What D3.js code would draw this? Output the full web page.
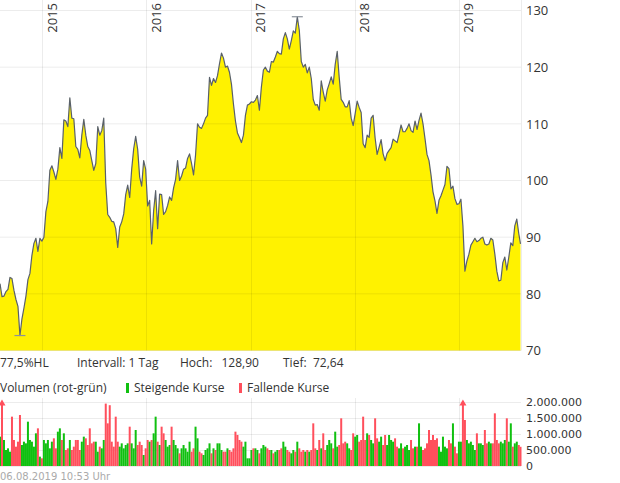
<!DOCTYPE html>
<html>
<head>
<meta charset="utf-8">
<script src="https://cdn.jsdelivr.net/npm/d3@7"></script>
<style>
  body { margin: 0; background: #fff; }
  svg { display: block; font-family: "Open Sans", sans-serif; }
</style>
</head>
<body>
<script>
// weekly closes, 06.08.2014 .. 06.08.2019
const startDate = "2014-08-06";
const endDate = "2019-08-06";
const yearLabels = ["2015", "2016", "2017", "2018", "2019"];
const priceTicks = [70, 80, 90, 100, 110, 120, 130];
const volumeTicks = [0, 500000, 1000000, 1500000, 2000000];

const prices = [
  81.8, 79.5, 79.6, 80.4, 80.8, 82.9, 82.7, 80.6, 79.0, 77.8,
  72.64, 75.6, 77.5, 79.6, 82.5, 83.6, 86.8, 88.9, 89.8, 87.5,
  89.8, 89.3, 90.0, 94.5, 96.3, 101.8, 102.6, 101.5, 100.2, 102.0,
  105.8, 103.9, 110.7, 110.5, 109.5, 114.6, 111.0, 110.9, 106.0, 105.5,
  104.0, 108.0, 110.8, 108.0, 106.0, 105.3, 103.5, 101.8, 103.0, 109.5,
  108.0, 108.8, 111.0, 99.5, 94.0, 93.5, 92.8, 92.7, 91.5, 88.2,
  91.8, 92.7, 94.1, 97.5, 99.2, 97.0, 102.0, 105.6, 107.8, 105.5,
  100.6, 99.0, 103.5, 102.0, 95.5, 96.5, 88.8, 94.7, 98.2, 91.5,
  97.6, 97.5, 94.0, 94.5, 95.6, 97.1, 96.5, 98.7, 100.2, 103.5,
  100.0, 100.8, 102.0, 102.2, 103.9, 104.7, 103.0, 101.0, 104.5, 110.0,
  109.4, 109.2, 110.0, 111.0, 111.5, 118.2, 116.8, 118.0, 117.3, 118.5,
  120.6, 122.5, 121.6, 120.0, 120.2, 119.1, 117.0, 113.5, 110.5, 108.4,
  107.6, 106.7, 108.0, 111.5, 113.3, 113.5, 113.9, 113.8, 114.2, 115.0,
  112.4, 116.5, 119.5, 120.0, 119.3, 119.1, 121.0, 120.9, 121.8, 122.8,
  122.4, 122.3, 125.0, 126.1, 125.0, 123.2, 124.7, 126.4, 126.0, 128.9,
  126.5, 121.0, 120.0, 120.5, 119.0, 120.0, 118.0, 114.3, 113.3, 113.4,
  112.4, 117.6, 115.6, 114.0, 116.0, 117.1, 118.3, 117.0, 120.5, 122.8,
  118.2, 114.3, 113.8, 113.0, 113.0, 114.1, 111.0, 109.7, 111.8, 114.0,
  112.9, 112.0, 106.5, 105.8, 108.0, 107.6, 111.0, 111.5, 107.5, 104.6,
  105.9, 107.2, 104.7, 103.5, 104.8, 105.3, 105.8, 107.3, 107.0, 106.7,
  108.2, 109.8, 108.6, 108.6, 109.2, 110.0, 108.8, 108.5, 110.5, 109.0,
  110.6, 111.9, 110.0, 107.4, 104.6, 103.5, 101.0, 98.0, 96.4, 94.2,
  96.5, 97.3, 98.3, 99.3, 102.5, 102.1, 98.5, 99.0, 96.8, 95.8,
  95.9, 96.7, 92.0, 84.0, 85.8, 87.0, 88.6, 89.2, 89.8, 89.2,
  89.4, 89.8, 90.0, 88.8, 88.6, 88.8, 89.8, 89.5, 87.0, 84.0,
  82.3, 82.4, 85.5, 86.5, 84.2, 86.5, 89.0, 88.5, 92.0, 93.2,
  90.6, 88.8
];

// volume in thousands
const volumes = [
  917, 2600, 813, 500, 552, 448, 1542, 813, 604, 760,
  1594, 656, 760, 708, 1385, 813, 760, 604, 1021, 1177,
  292, 240, 813, 708, 813, 552, 760, 865, 552, 1073,
  1177, 813, 1021, 500, 552, 813, 500, 604, 813, 813,
  500, 760, 917, 865, 656, 1177, 708, 760, 760, 448,
  604, 552, 813, 1950, 1333, 1900, 760, 604, 1542, 760,
  604, 708, 552, 656, 708, 1229, 708, 552, 1125, 656,
  760, 656, 344, 552, 813, 760, 813, 1021, 1542, 760,
  656, 1229, 1021, 813, 604, 656, 1229, 813, 656, 552,
  396, 552, 656, 552, 448, 760, 448, 552, 1229, 865,
  448, 396, 344, 500, 552, 708, 396, 552, 500, 708,
  708, 500, 448, 448, 552, 500, 448, 552, 1073, 969,
  813, 760, 604, 760, 240, 240, 500, 552, 552, 500,
  396, 552, 656, 604, 552, 500, 500, 396, 448, 500,
  500, 552, 760, 604, 500, 448, 396, 500, 448, 760,
  552, 448, 500, 448, 500, 448, 500, 1333, 552, 500,
  813, 552, 1021, 500, 656, 813, 708, 552, 1073, 604,
  656, 1490, 708, 760, 708, 552, 500, 1021, 917, 969,
  760, 813, 1542, 813, 1021, 969, 813, 708, 1490, 865,
  760, 917, 656, 969, 656, 969, 813, 760, 865, 604,
  552, 708, 552, 604, 656, 500, 813, 552, 604, 604,
  1333, 604, 500, 552, 708, 1125, 813, 969, 813, 865,
  604, 448, 917, 604, 552, 813, 708, 1333, 604, 396,
  760, 760, 2600, 1438, 813, 708, 760, 656, 500, 1021,
  708, 708, 656, 1125, 708, 760, 708, 708, 1646, 813,
  708, 760, 708, 813, 1490, 760, 1333, 604, 708, 760,
  656, 600
];

const W = 620, H = 483;
const plotW = 520.5;
const gridColor = "rgba(0,0,0,0.075)";
const upColor = "#10c010";
const downColor = "#ff4f5c";

const parse = d3.timeParse("%Y-%m-%d");
const start = parse(startDate), end = parse(endDate);

const data = prices.map((p, i) => {
  let date = d3.timeDay.offset(start, 7 * i);
  if (date > end) date = end;
  return {
    date: date,
    price: p,
    volume: volumes[i] * 1000,
    up: i == 0 ? true : p >= prices[i - 1]
  };
});

const svg = d3.select("body").append("svg")
  .attr("width", W)
  .attr("height", H);

const x = d3.scaleTime().domain([start, end]).range([0, plotW]);
const y = d3.scaleLinear().domain([70, 130]).range([350.5, 10.5]);
const yv = d3.scaleLinear().domain([0, 2000000]).range([466, 402]).clamp(true);

const yearDates = yearLabels.map(s => parse(s + "-01-01"));

// price area + line
const area = d3.area()
  .x(d => x(d.date))
  .y0(y(70))
  .y1(d => y(d.price));
const line = d3.line()
  .x(d => x(d.date))
  .y(d => y(d.price));

svg.append("path")
  .datum(data)
  .attr("d", area)
  .attr("fill", "#fff200");

// grid on top of area
const grid = svg.append("g");
grid.selectAll(".hgrid")
  .data(priceTicks)
  .enter().append("line")
  .attr("x1", 0).attr("x2", plotW + 0.5)
  .attr("y1", d => y(d)).attr("y2", d => y(d))
  .attr("stroke", gridColor);
grid.selectAll(".vgrid")
  .data(yearDates.concat([end]))
  .enter().append("line")
  .attr("x1", d => Math.round(x(d)) + 0.5).attr("x2", d => Math.round(x(d)) + 0.5)
  .attr("y1", 0).attr("y2", y(70))
  .attr("stroke", gridColor);

svg.append("path")
  .datum(data)
  .attr("d", line)
  .attr("fill", "none")
  .attr("stroke", "#59606a")
  .attr("stroke-width", 1.2)
  .attr("stroke-linejoin", "round");

// high / low markers
const hi = data.reduce((a, b) => b.price > a.price ? b : a);
const lo = data.reduce((a, b) => b.price < a.price ? b : a);
[hi, lo].forEach(d => {
  svg.append("line")
    .attr("x1", x(d.date) - 5.5).attr("x2", x(d.date) + 5.5)
    .attr("y1", y(d.price)).attr("y2", y(d.price))
    .attr("stroke", "#8c939c")
    .attr("stroke-width", 1.2);
});

// year labels
svg.selectAll(".year")
  .data(yearDates)
  .enter().append("text")
  .attr("transform", d => "translate(" + (x(d) + 14.5) + ",3) rotate(-90)")
  .attr("text-anchor", "end")
  .attr("font-size", "13px")
  .attr("fill", "#333")
  .text((d, i) => yearLabels[i]);

// price axis labels
svg.selectAll(".plabel")
  .data(priceTicks)
  .enter().append("text")
  .attr("x", 526)
  .attr("y", d => y(d))
  .attr("dy", "0.36em")
  .attr("font-size", "13px")
  .attr("fill", "#333")
  .text(d => d);

// info rows
const info = [
  { x: 0, t: "77,5%HL" },
  { x: 77, t: "Intervall: 1 Tag" },
  { x: 180, t: "Hoch:" },
  { x: 221.5, t: "128,90" },
  { x: 283, t: "Tief:" },
  { x: 313, t: "72,64" }
];
svg.selectAll(".info")
  .data(info)
  .enter().append("text")
  .attr("x", d => d.x)
  .attr("y", 367)
  .attr("font-size", "12px")
  .attr("fill", "#333")
  .text(d => d.t);

svg.append("text")
  .attr("x", 0).attr("y", 392)
  .attr("font-size", "12px")
  .attr("fill", "#333")
  .text("Volumen (rot-grün)");
svg.append("rect")
  .attr("x", 126).attr("y", 383).attr("width", 3).attr("height", 10)
  .attr("fill", upColor);
svg.append("text")
  .attr("x", 134).attr("y", 392)
  .attr("font-size", "12px")
  .attr("fill", "#333")
  .text("Steigende Kurse");
svg.append("rect")
  .attr("x", 239).attr("y", 383).attr("width", 3).attr("height", 10)
  .attr("fill", downColor);
svg.append("text")
  .attr("x", 247).attr("y", 392)
  .attr("font-size", "12px")
  .attr("fill", "#333")
  .text("Fallende Kurse");

// volume grid
const vgrid = svg.append("g");
vgrid.selectAll("line.h")
  .data(volumeTicks)
  .enter().append("line")
  .attr("x1", 0).attr("x2", plotW + 0.5)
  .attr("y1", d => Math.round(yv(d)) + 0.5).attr("y2", d => Math.round(yv(d)) + 0.5)
  .attr("stroke", gridColor);
vgrid.selectAll("line.v")
  .data(yearDates)
  .enter().append("line")
  .attr("x1", d => Math.round(x(d)) + 0.5).attr("x2", d => Math.round(x(d)) + 0.5)
  .attr("y1", 398).attr("y2", yv(0))
  .attr("stroke", gridColor);

// volume bars
const barW = x(d3.timeDay.offset(start, 7)) - x(start);
svg.selectAll(".vbar")
  .data(data)
  .enter().append("rect")
  .attr("x", d => x(d.date) - barW / 2)
  .attr("width", barW)
  .attr("y", d => yv(d.volume))
  .attr("height", d => yv(0) - yv(d.volume))
  .attr("fill", d => d.up ? upColor : downColor);

// arrows for bars above the axis maximum
svg.selectAll(".arrow")
  .data(data.filter(d => d.volume > 2000000))
  .enter().append("path")
  .attr("d", d => {
    const cx = x(d.date);
    return "M" + (cx - 3.5) + ",405.5L" + (cx + 3.5) + ",405.5L" + cx + ",399.5Z";
  })
  .attr("fill", d => d.up ? upColor : downColor);

// volume labels
const deFormat = d3.formatLocale({ decimal: ",", thousands: ".", grouping: [3], currency: ["", "€"] }).format(",");
svg.selectAll(".vlabel")
  .data(volumeTicks)
  .enter().append("text")
  .attr("x", 526)
  .attr("y", d => yv(d))
  .attr("dy", "0.36em")
  .attr("font-family", "DejaVu Sans, sans-serif")
  .attr("font-size", "11px")
  .attr("fill", "#333")
  .text(d => deFormat(d));

// timestamp
svg.append("text")
  .attr("x", 0).attr("y", 480)
  .attr("font-family", "DejaVu Sans, sans-serif")
  .attr("font-size", "10px")
  .attr("fill", "#aaa")
  .text("06.08.2019 10:53 Uhr");
</script>
</body>
</html>
